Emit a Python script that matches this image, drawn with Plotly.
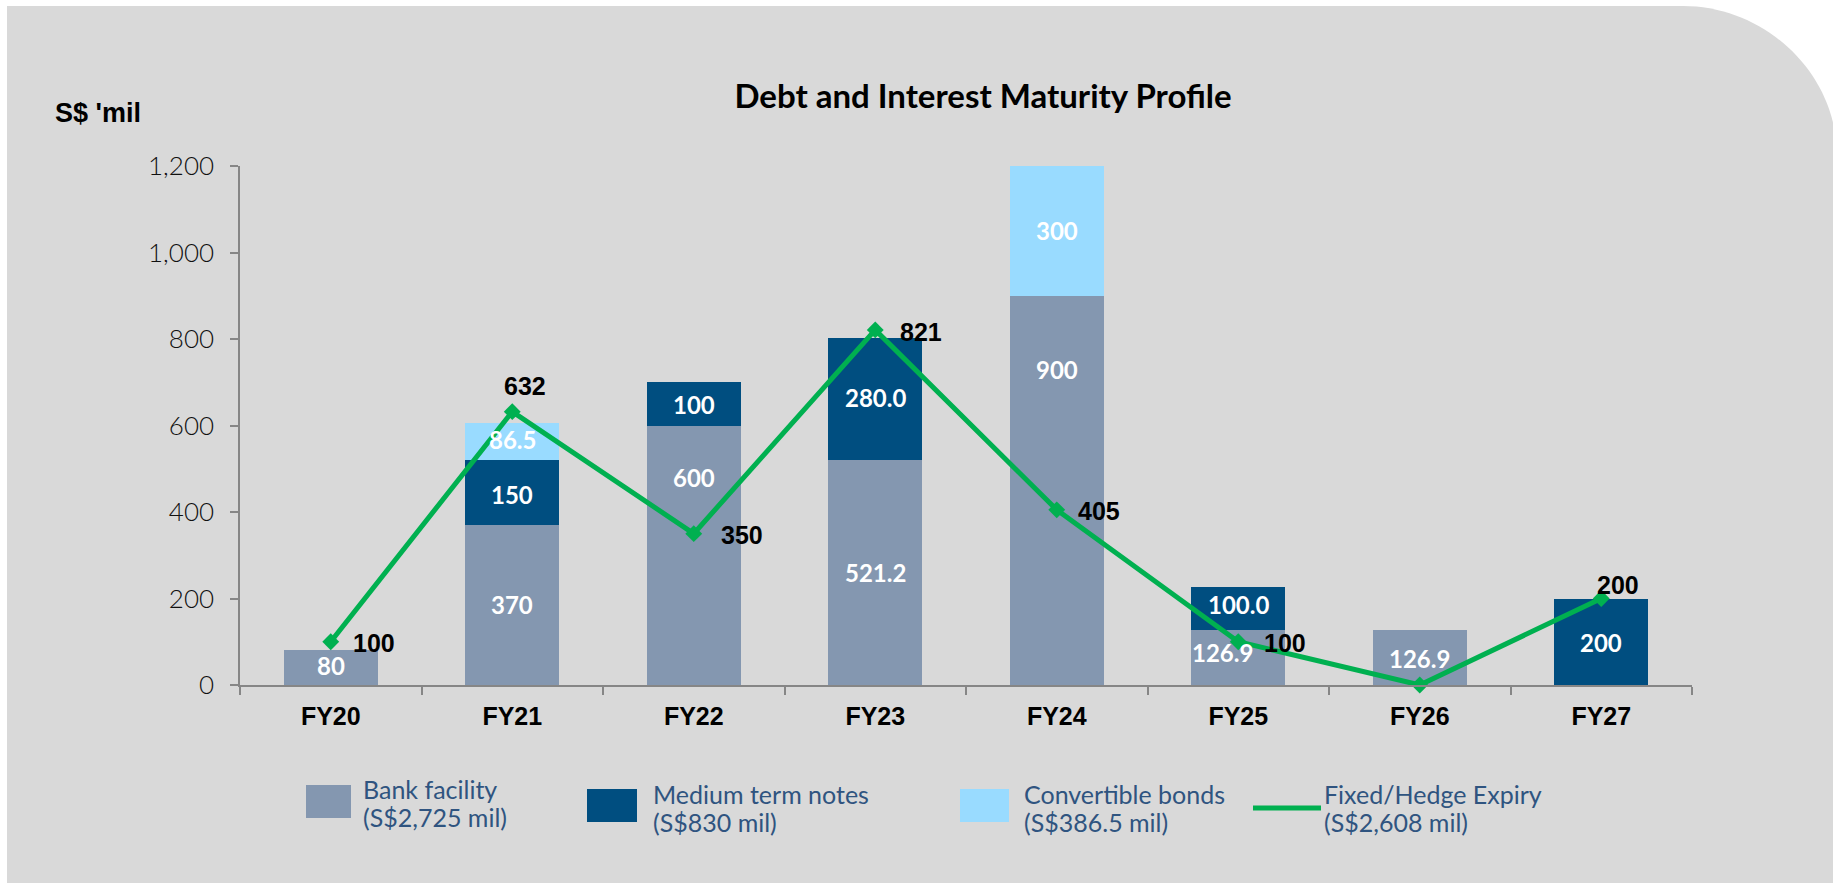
import plotly.graph_objects as go

# ---------------- data ----------------
categories = ["FY20", "FY21", "FY22", "FY23", "FY24", "FY25", "FY26", "FY27"]
bank_facility = [80, 370, 600, 521.2, 900, 126.9, 126.9, 0]
bank_labels = ["80", "370", "600", "521.2", "900", "126.9", "126.9", ""]
medium_term_notes = [0, 150, 100, 280.0, 0, 100.0, 0, 200]
mtn_labels = ["", "150", "100", "280.0", "", "100.0", "", "200"]
convertible_bonds = [0, 86.5, 0, 0, 300, 0, 0, 0]
cb_labels = ["", "86.5", "", "", "300", "", "", ""]
hedge_expiry = [100, 632, 350, 821, 405, 100, 0, 200]
hedge_labels = ["100", "632", "350", "821", "405", "100", "", "200"]

series_names = ["Bank facility", "Medium term notes", "Convertible bonds", "Fixed/Hedge Expiry"]
series_totals = ["(S$2,725 mil)", "(S$830 mil)", "(S$386.5 mil)", "(S$2,608 mil)"]
y_ticks = [0, 200, 400, 600, 800, 1000, 1200]

# ---------------- style ----------------
W, H = 1833, 883
ML, MR, MT, MB = 240, 141, 166, 198
PW, PH = W - ML - MR, H - MT - MB
C_BANK = "#8497B0"
C_MTN = "#004E80"
C_CB = "#99DBFF"
C_LINE = "#00B050"
C_BG = "#D9D9D9"
C_LEG = "#2F5480"
F_GEO = "Lato, 'Open Sans', sans-serif"
F_ARIAL = "'Liberation Sans', Arial, sans-serif"

# where inside each segment its label sits (fraction of segment height) and pixel x-shift
bank_label_frac = [0.55, 0.5, 0.8, 0.5, 0.81, 0.6, 0.49, 0.5]
bank_label_dx = [0, 0, 0, 0, 0, -16, 0, 0]
mtn_label_frac = [0.5, 0.47, 0.49, 0.51, 0.5, 0.6, 0.5, 0.49]
cb_label_frac = [0.5, 0.55, 0.5, 0.5, 0.5, 0.5, 0.5, 0.5]
# pixel offsets of the line value labels from their points
line_label_offsets = [(43, -1), (13, 26), (48, -1), (46, -2), (42, -1), (47, -1), (0, 0), (17, 14)]


def px(x):
    return (x - ML) / PW


def py(y):
    return (H - MB - y) / PH


fig = go.Figure()

for vals, color, name in [
    (bank_facility, C_BANK, series_names[0]),
    (medium_term_notes, C_MTN, series_names[1]),
    (convertible_bonds, C_CB, series_names[2]),
]:
    fig.add_trace(go.Bar(x=categories, y=vals, name=name,
                         marker=dict(color=color, line=dict(width=0)), showlegend=False))

fig.add_trace(go.Scatter(
    x=categories, y=hedge_expiry, name=series_names[3], mode="lines+markers",
    line=dict(color=C_LINE, width=5), marker=dict(symbol="diamond", size=13, color=C_LINE),
    showlegend=False, cliponaxis=False,
))

# bar segment labels
bar_font = dict(family=F_GEO, size=24, color="white", weight="bold")
for i, cat in enumerate(categories):
    segs = [
        (0, bank_facility[i], bank_labels[i], bank_label_frac[i], bank_label_dx[i]),
        (bank_facility[i], medium_term_notes[i], mtn_labels[i], mtn_label_frac[i], 0),
        (bank_facility[i] + medium_term_notes[i], convertible_bonds[i], cb_labels[i], cb_label_frac[i], 0),
    ]
    for base, v, lab, frac, dx in segs:
        if lab:
            fig.add_annotation(x=cat, y=base + frac * v, text=lab, showarrow=False, xshift=dx,
                               font=bar_font)

# line value labels
for cat, val, lab, (dx, dy) in zip(categories, hedge_expiry, hedge_labels, line_label_offsets):
    if lab:
        fig.add_annotation(x=cat, y=val, text=lab, showarrow=False, xshift=dx, yshift=dy,
                           font=dict(family=F_ARIAL, size=25, color="black", weight="bold"))

# background panel with rounded top-right corner
x0, y0, x1, r = 7, 6, W + 4, 150
path = (f"M {px(x0)},{py(y0)} L {px(x1 - r - 4)},{py(y0)} "
        f"C {px(x1 - r - 4 + 0.55 * r)},{py(y0)} {px(x1)},{py(y0 + r - 0.55 * r)} {px(x1)},{py(y0 + r)} "
        f"L {px(x1)},{py(H + 2)} L {px(x0)},{py(H + 2)} Z")
fig.add_shape(type="path", path=path, xref="paper", yref="paper", layer="below",
              fillcolor=C_BG, line=dict(width=0))

# custom legend
leg_font = dict(family=F_GEO, size=25, color=C_LEG)
leg_items = [
    (306, 351, 785, 818, C_BANK, 361, 789),
    (587, 637, 789, 822, C_MTN, 651, 794),
    (960, 1009, 789, 822, C_CB, 1022, 794),
]
for (ax0, ax1, ay0, ay1, col, tx, ty), nm, tot in zip(leg_items, series_names[:3], series_totals[:3]):
    fig.add_shape(type="rect", xref="paper", yref="paper", x0=px(ax0), x1=px(ax1), y0=py(ay1), y1=py(ay0),
                  fillcolor=col, line=dict(width=0))
    for k, line_txt in enumerate([nm, tot]):
        fig.add_annotation(xref="paper", yref="paper", x=px(tx), y=py(ty + 28 * k), xanchor="left",
                           yanchor="middle", text=line_txt, showarrow=False, font=leg_font)
fig.add_shape(type="line", xref="paper", yref="paper", x0=px(1253), x1=px(1321), y0=py(808), y1=py(808),
              line=dict(color=C_LINE, width=5))
for k, line_txt in enumerate([series_names[3], series_totals[3]]):
    fig.add_annotation(xref="paper", yref="paper", x=px(1322), y=py(794 + 28 * k), xanchor="left",
                       yanchor="middle", text=line_txt, showarrow=False, font=leg_font)

# unit label
fig.add_annotation(xref="paper", yref="paper", x=px(53), y=py(113), xanchor="left", yanchor="middle",
                   text="S$ 'mil", showarrow=False,
                   font=dict(family=F_ARIAL, size=27, color="black", weight="bold"))

fig.update_layout(
    width=W, height=H,
    margin=dict(l=ML, r=MR, t=MT, b=MB, pad=0),
    paper_bgcolor="white", plot_bgcolor="rgba(0,0,0,0)",
    barmode="stack", bargap=0.482,
    title=dict(text="<b>Debt and Interest Maturity Profile</b>", x=983 / W, xanchor="center",
               y=1 - 96 / H, yanchor="middle", xref="container", yref="container",
               font=dict(family=F_GEO, size=33, color="black")),
    xaxis=dict(showline=True, linecolor="#868686", linewidth=1.5, ticks="outside", tickson="boundaries",
               ticklen=8, tickcolor="#868686", tickwidth=1.5, showgrid=False, zeroline=False,
               tickfont=dict(family=F_ARIAL, size=25, color="black", weight="bold"),
               ticklabelstandoff=8),
    yaxis=dict(range=[0, 1200], tickvals=y_ticks, tickformat=",", showline=True, linecolor="#868686",
               linewidth=1.5, ticks="outside", ticklen=8, tickcolor="#868686", tickwidth=1.5,
               showgrid=False, zeroline=False,
               tickfont=dict(family=F_GEO, size=26, color="#111111", weight=300),
               ticklabelstandoff=11),
)

fig.write_html("out.html", config={"displayModeBar": False},
               post_script="document.body.style.margin='0px';document.body.style.overflow='hidden';")
